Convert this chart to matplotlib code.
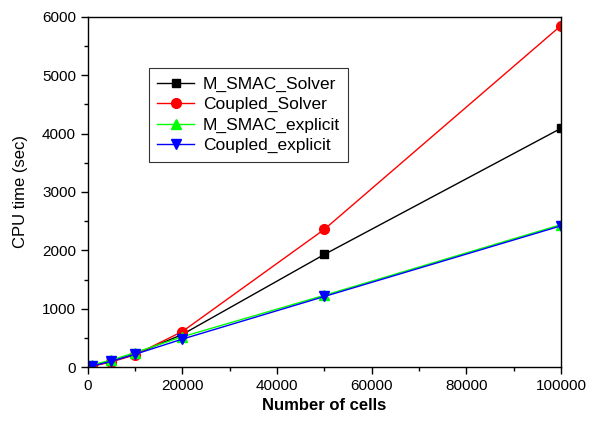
import matplotlib
matplotlib.use("Agg")
import matplotlib.pyplot as plt
from matplotlib.ticker import MultipleLocator

plt.rcParams["font.family"] = ["Liberation Sans", "DejaVu Sans"]

cells = [1000, 5000, 10000, 20000, 50000, 100000]
smac_solver = [20, 100, 220, 560, 1930, 4090]
coupled_solver = [15, 90, 210, 610, 2360, 5850]
smac_explicit = [40, 120, 250, 520, 1230, 2440]
coupled_explicit = [20, 100, 220, 480, 1210, 2420]

fig = plt.figure(figsize=(5.93, 4.21), dpi=100)
ax = fig.add_axes([0.148, 0.128, 0.798, 0.832])

ax.plot(cells, smac_solver, color="black", marker="s", ms=6, lw=1, label="M_SMAC_Solver")
ax.plot(cells, coupled_solver, color="red", marker="o", ms=7, lw=1, label="Coupled_Solver")
ax.plot(cells, smac_explicit, color="#00ff00", marker="^", ms=7, lw=1, label="M_SMAC_explicit")
ax.plot(cells, coupled_explicit, color="blue", marker="v", ms=7, lw=1, label="Coupled_explicit")

ax.set_xlim(0, 100000)
ax.set_ylim(0, 6000)
ax.xaxis.set_major_locator(MultipleLocator(20000))
ax.xaxis.set_minor_locator(MultipleLocator(10000))
ax.yaxis.set_major_locator(MultipleLocator(1000))
ax.yaxis.set_minor_locator(MultipleLocator(500))
ax.tick_params(which="major", direction="out", length=5, width=1, labelsize=11)
ax.tick_params(which="minor", direction="out", length=3, width=1)
for s in ax.spines.values():
    s.set_linewidth(1)

ax.set_xlabel("Number of cells", fontsize=12, fontweight="bold")
ax.set_ylabel("CPU time (sec)", fontsize=12, labelpad=10)

leg = ax.legend(loc="upper left", bbox_to_anchor=(0.129, 0.854), borderaxespad=0,
                fontsize=12.5, frameon=True, fancybox=False, edgecolor="black",
                handlelength=2.1, borderpad=0.5, labelspacing=0.3,
                handletextpad=0.5)
leg.get_frame().set_linewidth(0.8)

fig.savefig("out.png", dpi=100)
